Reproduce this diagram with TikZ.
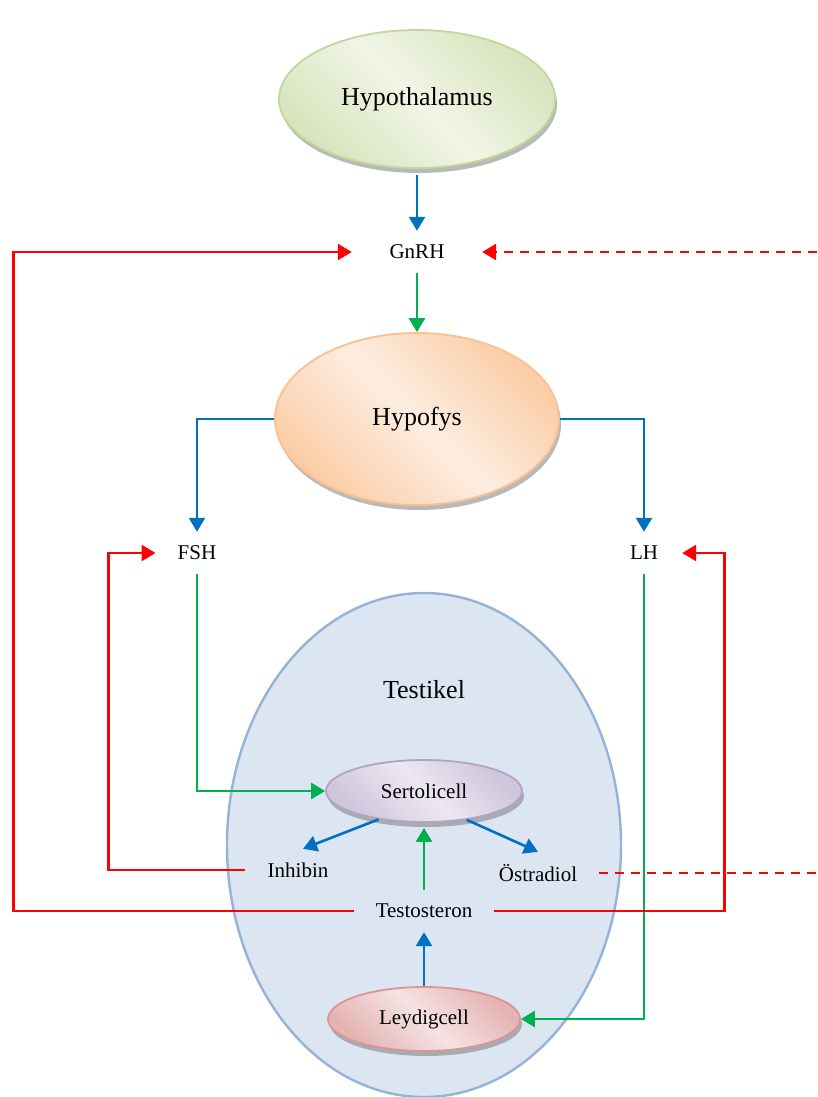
\documentclass[tikz,border=0pt]{standalone}
\usepackage{fontspec}
\setmainfont{Liberation Serif}
\usetikzlibrary{arrows.meta,shapes.geometric,shadows}
\definecolor{hblue}{HTML}{0070C0}
\definecolor{hgreen}{HTML}{00B050}
\definecolor{hred}{HTML}{FF0000}
\definecolor{thline}{HTML}{C3D69B}
\definecolor{thdark}{HTML}{D7E4BD}
\definecolor{thlight}{HTML}{F0F5E6}
\definecolor{hfline}{HTML}{FAC090}
\definecolor{hfdark}{HTML}{FBCDA6}
\definecolor{hflight}{HTML}{FDEDE0}
\definecolor{seline}{HTML}{B3A2C7}
\definecolor{sedark}{HTML}{CFC5DC}
\definecolor{selight}{HTML}{ECE8F1}
\definecolor{leline}{HTML}{D99694}
\definecolor{ledark}{HTML}{E4B3B2}
\definecolor{lelight}{HTML}{F5E3E3}
\definecolor{teline}{HTML}{95B3D7}
\definecolor{tefill}{HTML}{DCE6F2}

\begin{document}
\begin{tikzpicture}[x=1pt,y=-1pt,>={Triangle[length=14pt,width=16pt]},
  flow/.style={line width=2.6pt,->},
  gland/.style={ellipse,line width=1.8pt,
    drop shadow={shadow xshift=2pt,shadow yshift=-5pt,opacity=0.5,fill=black!55}},
  big/.style={font=\fontsize{26}{30}\selectfont},
  small/.style={font=\fontsize{21}{25}\selectfont},
  hormone/.style={small,inner xsep=22pt,minimum height=42pt}]
  \useasboundingbox (0,0) rectangle (817,1097);
  \node[ellipse,draw=teline,fill=tefill,line width=2.4pt,minimum width=394,minimum height=504]
    (testikel) at (424,845) {};
  \node[big] (testikeltext) at (424,690) {Testikel};
  \node[gland,draw=thline,top color=thdark,bottom color=thdark,middle color=thlight,
    shading angle=-45,minimum width=276,minimum height=138,big] (hypothal) at (417,99) {Hypothalamus};
  \node[gland,draw=hfline,top color=hfdark,bottom color=hfdark,middle color=hflight,
    shading angle=-45,minimum width=284,minimum height=172,big] (hypofys) at (417,419) {Hypofys};
  \node[gland,draw=seline,top color=sedark,bottom color=sedark,middle color=selight,
    shading angle=-45,minimum width=196,minimum height=62,small] (sertoli) at (424,791) {Sertolicell};
  \node[gland,draw=leline,top color=ledark,bottom color=ledark,middle color=lelight,
    shading angle=-45,minimum width=192,minimum height=64,small] (leydig) at (424,1019) {Leydigcell};
  \node[hormone,minimum width=130] (gnrh) at (417,252) {GnRH};
  \node[hormone,minimum width=76] (fsh) at (197,553) {FSH};
  \node[hormone,minimum width=76] (lh) at (644,553) {LH};
  \node[hormone] (inhibin) at (298,870) {Inhibin};
  \node[hormone] (ostradiol) at (538,873) {Östradiol};
  \node[hormone] (testost) at (424,911) {Testosteron};
  \coordinate (utG) at (817,252);
  \coordinate (utO) at (817,873);

  \draw[flow,hblue] ([yshift=-6pt]hypothal.south) -- (gnrh.north);
  \draw[flow,hgreen] (gnrh.south) -- (hypofys.north);
  \draw[flow,hblue] (hypofys.west) -| (fsh.north);
  \draw[flow,hblue] (hypofys.east) -| (lh.north);
  \draw[flow,hgreen] (fsh.south) |- (sertoli.west);
  \draw[flow,hgreen] (lh.south) |- (leydig.east);
  \draw[flow,hblue] (sertoli.212) -- ([xshift=5pt]inhibin.north);
  \draw[flow,hblue] (sertoli.326) -- (ostradiol.north);
  \draw[flow,hgreen] (testost.north) -- ([yshift=-5pt]sertoli.south);
  \draw[flow,hblue] (leydig.north) -- (testost.south);
  \draw[flow,hred] (inhibin.west) -- ++(-137,0) |- (fsh.west);
  \draw[flow,hred] (testost.west) -- ++(-340,0) |- (gnrh.west);
  \draw[flow,hred] (testost.east) -- ++(230,0) |- (lh.east);
  \draw[flow,hred,dash pattern=on 9pt off 7pt] (utG) -- (gnrh.east);
  \draw[line width=2.6pt,hred,dash pattern=on 9pt off 7pt] (ostradiol.east) -- (utO);
\end{tikzpicture}
\end{document}
